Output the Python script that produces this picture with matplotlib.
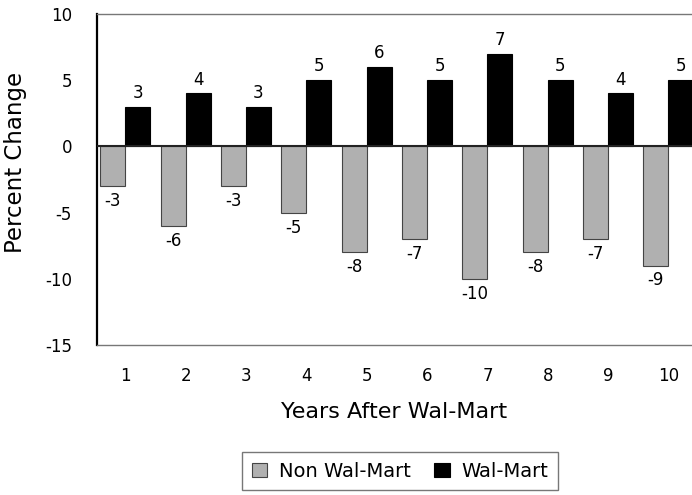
import matplotlib.pyplot as plt
import numpy as np

plt.rcParams['font.family'] = ['DejaVu Sans']
plt.rcParams['axes.unicode_minus'] = False

years = ['1', '2', '3', '4', '5', '6', '7', '8', '9', '10']
non_walmart = [-3, -6, -3, -5, -8, -7, -10, -8, -7, -9]
walmart = [3, 4, 3, 5, 6, 5, 7, 5, 4, 5]

x = np.arange(len(years))
w = 0.415

fig = plt.figure(figsize=(6.92, 4.95), dpi=100)
ax = fig.add_axes([0.140, 0.303, 0.860, 0.669])

b1 = ax.bar(x - w / 2, non_walmart, w, color='#b0b0b0', edgecolor='#444444',
            linewidth=0.8, label='Non Wal-Mart')
b2 = ax.bar(x + w / 2, walmart, w, color='black', edgecolor='black',
            linewidth=0.8, label='Wal-Mart')

# value labels
for xi, v in zip(x - w / 2, non_walmart):
    ax.text(xi, v - 0.45, str(v), ha='center', va='top', fontsize=12)
for xi, v in zip(x + w / 2, walmart):
    ax.text(xi, v + 0.35, str(v), ha='center', va='bottom', fontsize=12)

ax.axhline(0, color='#222222', linewidth=1.5, zorder=3)

ax.set_xlim(-0.47, 9.39)
ax.set_ylim(-15, 10)
ax.set_yticks([10, 5, 0, -5, -10, -15])
ax.set_xticks(x)
ax.set_xticklabels(years)
ax.tick_params(axis='both', length=0, labelsize=12)
ax.tick_params(axis='y', pad=18)
ax.tick_params(axis='x', pad=16)

ax.spines['left'].set_linewidth(1.6)
ax.spines['left'].set_color('black')
ax.spines['top'].set_color('#777777')
ax.spines['top'].set_linewidth(1.0)
ax.spines['bottom'].set_color('#777777')
ax.spines['bottom'].set_linewidth(1.0)
ax.spines['right'].set_visible(False)

ax.set_ylabel('Percent Change', fontsize=16.5)
ax.yaxis.set_label_coords(-0.118, 0.55)
ax.set_xlabel('Years After Wal-Mart', fontsize=16, labelpad=12)

leg = fig.legend(handles=[b1, b2], loc='center', bbox_to_anchor=(0.578, 0.048),
                 ncol=2, fontsize=14, frameon=True, fancybox=False,
                 handlelength=0.8, handleheight=0.8, columnspacing=1.2,
                 borderpad=0.5, handletextpad=0.6)
leg.get_frame().set_edgecolor('#555555')
leg.get_frame().set_linewidth(1.0)

plt.savefig('out.png', dpi=100)
